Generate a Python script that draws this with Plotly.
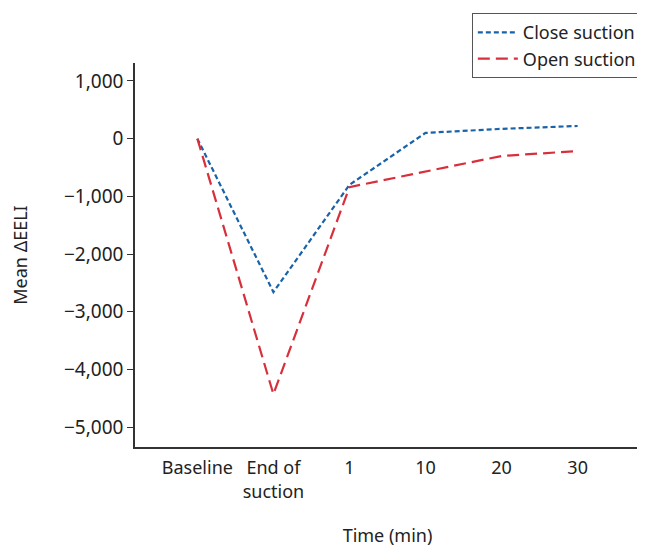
import plotly.graph_objects as go

categories = ["Baseline", "End of<br>suction", "1", "10", "20", "30"]
close_suction = [0, -2660, -800, 100, 170, 220]
open_suction = [0, -4430, -840, -575, -300, -215]
y_ticks = [1000, 0, -1000, -2000, -3000, -4000, -5000]

FONT = "Noto Sans"
x_idx = list(range(len(categories)))

fig = go.Figure()
fig.add_trace(go.Scatter(
    x=x_idx, y=close_suction, mode="lines", name="Close suction",
    line=dict(color="#1a63a8", width=2.2, dash="5px,3px"),
))
fig.add_trace(go.Scatter(
    x=x_idx, y=open_suction, mode="lines", name="Open suction",
    line=dict(color="#d7303c", width=2.2, dash="12px,6px"),
))

fig.update_layout(
    width=637, height=540,
    margin=dict(l=126, r=3, t=55, b=101),
    paper_bgcolor="white", plot_bgcolor="white",
    font=dict(family=FONT, size=18, color="#222"),
    showlegend=True,
    legend=dict(
        x=0.667, y=1.13, xanchor="left", yanchor="top",
        bordercolor="#555", borderwidth=1, bgcolor="white",
        font=dict(size=18, family=FONT), tracegroupgap=0, itemwidth=40,
    ),
    xaxis=dict(
        range=[-0.82, 5.82], tickmode="array", tickvals=x_idx, ticktext=categories,
        showline=True, linecolor="#333", linewidth=1.5, showgrid=False, zeroline=False,
        ticks="", tickfont=dict(size=18), ticklabelstandoff=4,
        title=dict(text="Time (min)", font=dict(size=18), standoff=28),
    ),
    yaxis=dict(
        range=[-5346, 1312], tickmode="array", tickvals=y_ticks, tickformat=",",
        showline=True, linecolor="#333", linewidth=1.5, showgrid=False, zeroline=False,
        ticks="outside", ticklen=6, tickcolor="#333", tickfont=dict(size=19),
        title=dict(text="Mean ΔEELI", font=dict(size=18), standoff=40),
    ),
)

fig.write_html("out.html")
